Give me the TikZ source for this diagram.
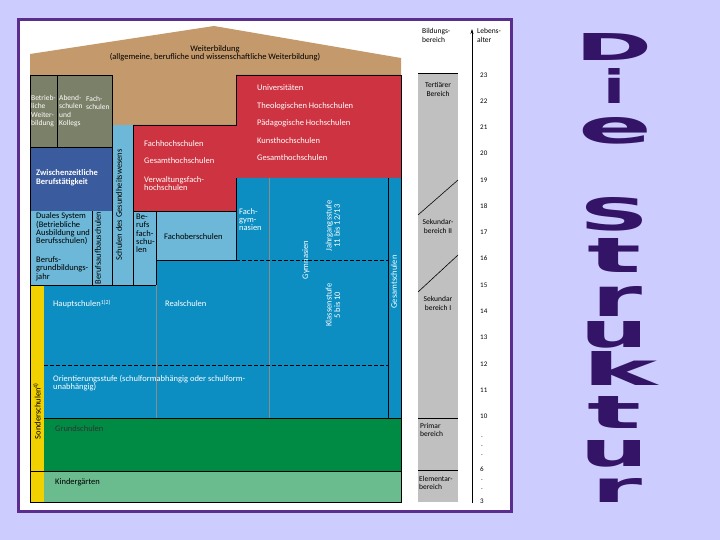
\documentclass[tikz,border=0pt]{standalone}
\usepackage{fontspec}
\usepackage{graphicx}
\setmainfont{Carlito}
\newfontfamily\titlefont{DejaVu Sans}
\usetikzlibrary{arrows.meta}
\definecolor{bgviolet}{HTML}{CCCCFF}
\definecolor{frameviolet}{HTML}{5B2D8E}
\definecolor{titleviolet}{HTML}{331466}
\definecolor{rooftan}{HTML}{C49A6C}
\definecolor{olivegrey}{HTML}{7B8068}
\definecolor{darkblue}{HTML}{3A5B9E}
\definecolor{lightblue}{HTML}{6DB8D8}
\definecolor{hsred}{HTML}{CE3341}
\definecolor{schoolblue}{HTML}{0C8EC3}
\definecolor{primgreen}{HTML}{008B45}
\definecolor{kigagreen}{HTML}{6ABB8E}
\definecolor{sonderyellow}{HTML}{F2D100}
\definecolor{areagrey}{HTML}{C0C0C0}

\begin{document}
\begin{tikzpicture}
[x=1pt,y=-1pt,
 lbl/.style={font=\fontsize{8.5}{8.4}\selectfont, inner sep=0pt, align=left, anchor=west},
 small/.style={font=\fontsize{7.5}{8.3}\selectfont},
 wlbl/.style={lbl, text=white},
 vlbl/.style={lbl, anchor=center, align=center, rotate=90},
 wvlbl/.style={vlbl, text=white},
 age/.style={font=\fontsize{7}{8}\selectfont, inner sep=0pt, anchor=west},
 letter/.style={text=titleviolet, inner sep=0pt, anchor=north, font=\titlefont\bfseries},
 edge/.style={draw=black, line width=0.6pt},
 thin/.style={draw=black!45, line width=0.3pt},
 stage/.style={draw=black, dash pattern=on 4pt off 2pt, line width=0.5pt}]
\useasboundingbox[fill=bgviolet] (0,0) rectangle (720,540);
\draw[draw=frameviolet, line width=3pt, fill=white] (18,20) rectangle (511,511);

% areas
\fill[rooftan] (30,54) -- (214,26) -- (401,58) -- (401,125) -- (30,125) -- cycle;
\filldraw[olivegrey, edge] (30,75) rectangle (112,147);
\draw[edge] (57,75) -- (57,147);
\filldraw[darkblue, edge] (30,147) rectangle (112,211);
\fill[lightblue] (30,211) rectangle (236,285);
\fill[lightblue] (112,125) rectangle (133,211);
\filldraw[hsred, edge] (133,125) -- (236,125) -- (236,75) -- (401,75) -- (401,178)
  -- (236,178) -- (236,211) -- (133,211) -- cycle;
\fill[schoolblue] (44,285) -- (156,285) -- (156,260) -- (236,260) -- (236,178)
  -- (401,178) -- (401,418) -- (44,418) -- cycle;
\fill[primgreen] (44,418) rectangle (401,471);
\fill[kigagreen] (44,471) rectangle (401,502);
\fill[sonderyellow] (30,285) rectangle (44,502);

% borders
\draw[edge] (112,125) -- (112,285);
\draw[edge] (133,125) -- (133,285);
\draw[edge] (92,211) -- (92,285);
\draw[edge] (156,211) -- (156,285);
\draw[edge] (30,285) -- (156,285) -- (156,260) -- (236,260) -- (236,178);
\draw[edge] (388,178) -- (388,418);
\draw[edge] (44,418) -- (401,418);
\draw[edge] (30,471) -- (401,471);
\draw[edge] (30,75) -- (30,502) -- (401,502) -- (401,75);
\draw[thin] (269,178) -- (269,418);
\draw[thin] (156,285) -- (156,418);
\draw[stage] (236,260) -- (388,260);
\draw[stage] (44,365) -- (388,365);

% texts of the diagram
\node[lbl, anchor=center, align=center] (weiter) at (215,53.5)
  {Weiterbildung\\(allgemeine, berufliche und wissenschaftliche Weiterbildung)};
\node[wlbl, small] (betrieb) at (31,111) {Betrieb-\\liche\\Weiter-\\bildung};
\node[wlbl, small] (abend) at (59,111) {Abend-\\schulen\\und\\Kollegs};
\node[wlbl, small] (fachsch) at (86,103) {Fach-\\schulen};
\node[wlbl, font=\fontsize{8.5}{8.8}\bfseries] (zwischen) at (36,177.5)
  {Zwischenzeitliche\\Berufstätigkeit};
\node[lbl] (dual) at (36,229) {Duales System\\(Betriebliche\\Ausbildung und\\Berufsschulen)};
\node[lbl] (bgj) at (36,268.5) {Berufs-\\grundbildungs-\\jahr};
\node[vlbl] (bas) at (98,248) {Berufsaufbauschulen};
\node[vlbl] (gesund) at (119,205) {Schulen des Gesundheitswesens};
\node[lbl] (bfs) at (136,233.5) {Be-\\rufs\\fach-\\schu-\\len};
\node[lbl] (fos) at (164,237) {Fachoberschulen};
\node[wlbl] (fh) at (144,144) {Fachhochschulen};
\node[wlbl] (ghs1) at (144,161) {Gesamthochschulen};
\node[wlbl] (vfh) at (144,183.5) {Verwaltungsfach-\\hochschulen};
\node[wlbl] (uni) at (257,88) {Universitäten};
\node[wlbl] (theol) at (257,106) {Theologischen Hochschulen};
\node[wlbl] (paed) at (257,123) {Pädagogische Hochschulen};
\node[wlbl] (kunst) at (257,141) {Kunsthochschulen};
\node[wlbl] (ghs2) at (257,158) {Gesamthochschulen};
\node[wlbl] (fgym) at (239,219.5) {Fach-\\gym-\\nasien};
\node[wvlbl] (gym) at (306,260) {Gymnasien};
\node[wvlbl] (jgst) at (333,226) {Jahrgangsstufe\\11 bis 12/13};
\node[wvlbl] (klst) at (333,305) {Klassenstufe\\5 bis 10};
\node[wvlbl] (gesamt) at (394,282) {Gesamtschulen};
\node[wlbl] (haupt) at (53,304) {Hauptschulen\textsuperscript{1)2)}};
\node[wlbl] (real) at (165,304) {Realschulen};
\node[wlbl] (orient) at (53,383)
  {Orientierungsstufe (schulformabhängig oder schulform-\\unabhängig)};
\node[lbl, text=black!80] (grund) at (55,429) {Grundschulen};
\node[lbl] (kiga) at (55,482) {Kindergärten};
\node[vlbl] (sonder) at (37,411) {Sonderschulen\textsuperscript{4)}};

% education areas
\fill[areagrey] (418,73) rectangle (458,502);
\draw[edge] (418,73) -- (458,73);
\draw[edge] (418,418) -- (458,418);
\draw[edge] (418,470) -- (458,470);
\draw[edge] (418,215) -- (458,180);
\draw[edge] (418,292) -- (458,255);
\node[lbl, small] (bbereich) at (422,35.5) {Bildungs-\\bereich};
\node[lbl, small, anchor=center, align=center] (tert) at (438,89.5) {Tertiärer\\Bereich};
\node[lbl, small, anchor=center, align=center] (sek2) at (438,226.5) {Sekundar-\\bereich II};
\node[lbl, small, anchor=center, align=center] (sek1) at (438,303.5) {Sekundar\\bereich I};
\node[lbl, small] (prim) at (420,430) {Primar\\bereich};
\node[lbl, small] (elem) at (419,483) {Elementar-\\bereich};

% age scale
\coordinate (agebase) at (472,503);
\coordinate (agetop) at (472,29);
\draw[line width=0.6pt, -{Stealth[length=5pt,width=3pt]}] (agebase) -- (agetop);
\node[lbl, small] (lalter) at (477,35.5) {Lebens-\\alter};
\foreach \a/\yy in {23/75,22/101,21/127,20/153,19/180,18/206,17/232,16/258,
                    15/285,14/311,13/337,12/364,11/390,10/416,6/469,3/501}
  \node[age] (age\a) at (480,\yy) {\a};
\foreach \yy [count=\i] in {437,446,455,480,489}
  \node[age] (dot\i) at (481,\yy) {.};

% title
\node[letter] (tD) at (614,33) {\resizebox{77pt}{27pt}{D}};
\node[letter] (ti) at (614,68) {\resizebox{22pt}{35pt}{i}};
\node[letter] (te) at (615,117) {\resizebox{74pt}{26pt}{e}};
\node[letter] (tS) at (615,197) {\resizebox{70pt}{33pt}{S}};
\node[letter] (tt1) at (615,238) {\resizebox{54pt}{34pt}{t}};
\node[letter] (tr1) at (617,286) {\resizebox{51pt}{30pt}{r}};
\node[letter] (tu1) at (615,321) {\resizebox{68pt}{26pt}{u}};
\node[letter] (tk) at (620,351) {\resizebox{75pt}{34pt}{k}};
\node[letter] (tt2) at (615,396) {\resizebox{54pt}{32pt}{t}};
\node[letter] (tu2) at (615,440) {\resizebox{68pt}{26pt}{u}};
\node[letter] (tr2) at (617,478) {\resizebox{51pt}{24pt}{r}};
\end{tikzpicture}
\end{document}
